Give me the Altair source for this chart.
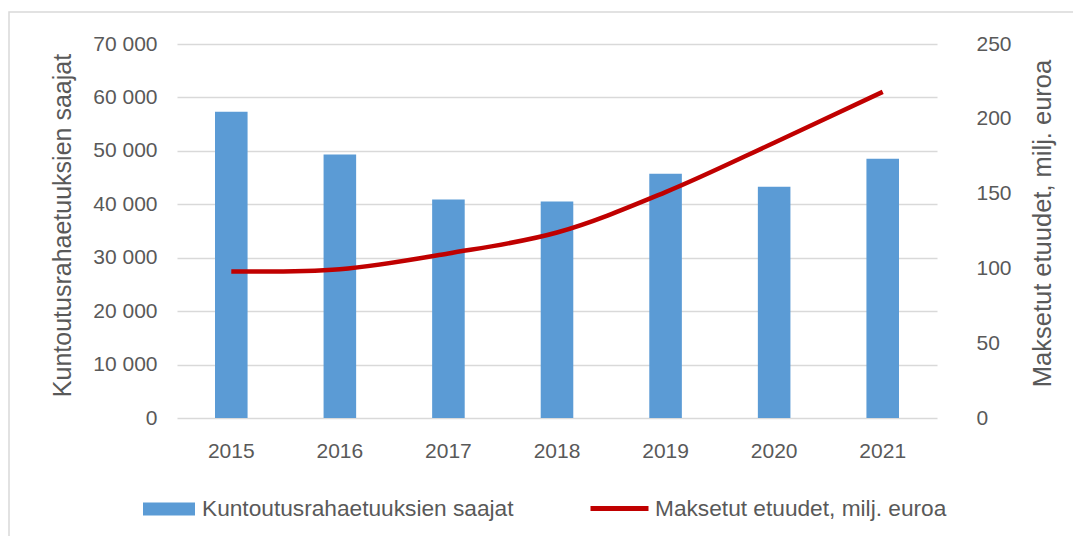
import altair as alt
import pandas as pd

years = ["2015", "2016", "2017", "2018", "2019", "2020", "2021"]
recipients = [57300, 49300, 40900, 40500, 45700, 43300, 48500]
paid = [98, 99.5, 110, 124, 151, 184, 218]

bar_label = "Kuntoutusrahaetuuksien saajat"
line_label = "Maksetut etuudet, milj. euroa"

df = pd.DataFrame({
    "year": years,
    "recipients": recipients,
    "paid": paid,
    "s1": [bar_label] * len(years),
    "s2": [line_label] * len(years),
})

FONT = "Liberation Sans"
GRAY = "#595959"

x = alt.X("year:N", title=None,
          scale=alt.Scale(paddingInner=0.7, paddingOuter=0.35),
          axis=alt.Axis(labelAngle=0, domain=False, ticks=False, labelPadding=22,
                        labelFontSize=21, labelColor=GRAY, labelFont=FONT))

bars = alt.Chart(df).mark_bar(color="#5B9BD5").encode(
    x=x,
    y=alt.Y("recipients:Q", title=bar_label,
            scale=alt.Scale(domain=[0, 70000], nice=False),
            axis=alt.Axis(values=list(range(0, 70001, 10000)),
                          labelExpr="datum.value >= 1000 ? floor(datum.value/1000) + ' 000' : '0'",
                          domain=False, ticks=False, labelPadding=20,
                          labelFontSize=21, labelColor=GRAY, labelFont=FONT,
                          grid=True, gridColor="#D9D9D9", gridWidth=1.3,
                          titleFontSize=25, titleColor=GRAY, titleFont=FONT, titleFontWeight="normal",
                          titleAngle=-90, titleX=-115, titleY=181,
                          titleAlign="center", titleBaseline="middle")),
    color=alt.Color("s1:N", scale=alt.Scale(domain=[bar_label], range=["#5B9BD5"]),
                    legend=alt.Legend(title=None, orient="none", legendX=-34, legendY=439,
                                      symbolType="M-1,-0.25H1V0.25H-1Z", symbolSize=2704,
                                      symbolStrokeWidth=0, labelOffset=7, labelLimit=0,
                                      labelFontSize=22.7, labelColor=GRAY, labelFont=FONT)),
)

line = alt.Chart(df).mark_line(strokeWidth=4.5, interpolate="catmull-rom").encode(
    x=x,
    y=alt.Y("paid:Q", title=line_label,
            scale=alt.Scale(domain=[0, 250], nice=False),
            axis=alt.Axis(orient="right", values=list(range(0, 251, 50)),
                          domain=False, ticks=False, grid=False, labelPadding=39,
                          labelFontSize=21, labelColor=GRAY, labelFont=FONT,
                          titleFontSize=25.5, titleColor=GRAY, titleFont=FONT, titleFontWeight="normal",
                          titleAngle=-90, titleX=105, titleY=179,
                          titleAlign="center", titleBaseline="middle")),
    stroke=alt.Stroke("s2:N", scale=alt.Scale(domain=[line_label], range=["#C00000"]),
                      legend=alt.Legend(title=None, orient="none", legendX=411, legendY=433,
                                        symbolType="stroke", symbolSize=3364,
                                        symbolStrokeWidth=5, labelOffset=4, labelLimit=0,
                                        labelFontSize=22.7, labelColor=GRAY, labelFont=FONT)),
)

frame = alt.Chart(alt.Data(values=[{"a": 1}])).mark_rect(
    fill=None, stroke="#D9D9D9", strokeWidth=1.5
).encode(
    x=alt.value(-168), x2=alt.value(920),
    y=alt.value(-32), y2=alt.value(520),
)

chart = alt.layer(frame, bars, line).resolve_scale(
    y="independent", color="independent", stroke="independent"
).properties(
    width=760, height=374,
    autosize=alt.AutoSizeParams(type="none"),
    padding={"left": 169, "top": 36, "right": 136, "bottom": 118},
).configure_view(strokeWidth=0)

chart.save("out.html", embed_options={"renderer": "svg", "actions": False})
